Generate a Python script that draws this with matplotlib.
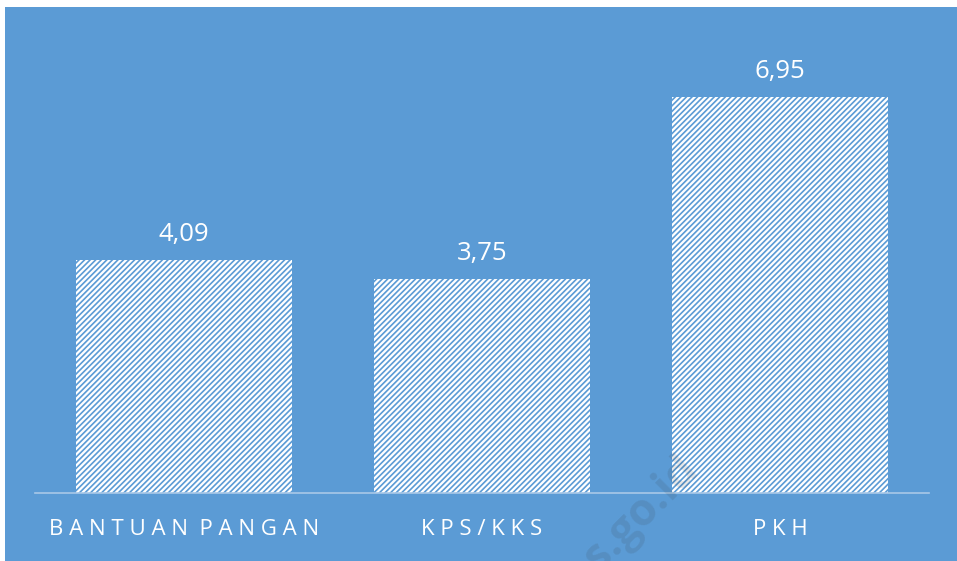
import matplotlib.pyplot as plt
from matplotlib.patches import Rectangle

# data
categories = ['BANTUAN PANGAN', 'KPS/KKS', 'PKH']
values = [4.09, 3.75, 6.95]
value_labels = ['4,09', '3,75', '6,95']

bg = '#5B9BD5'
W, H = 957, 561

plt.rcParams['font.family'] = ['Open Sans', 'DejaVu Sans']
plt.rcParams['hatch.linewidth'] = 1.2

fig = plt.figure(figsize=(W / 100, H / 100), dpi=100)
fig.patch.set_facecolor('white')
# blue panel with thin white frame at top/left
fig.patches.append(Rectangle((5 / W, 0), 1 - 5 / W, 1 - 7 / H,
                             transform=fig.transFigure, facecolor=bg,
                             edgecolor='none', zorder=-10))

# axes: x from 35 to 929 px, y=0 at 493 px
ax = fig.add_axes([35 / W, (H - 493) / H, (929 - 35) / W, (493 - 40) / H])
ax.set_facecolor('none')
scale = 57.0  # px per unit
ax.set_ylim(0, (493 - 40) / scale)
ax.set_xlim(-0.5, 2.5)

x = range(len(categories))
ax.bar(x, values, width=0.728, color='white', edgecolor=bg,
       hatch='//////', linewidth=0, zorder=2)

for xi, v, lab in zip(x, values, value_labels):
    ax.annotate(lab, (xi, v), xytext=(0, 13), textcoords='offset pixels',
                ha='center', va='bottom', color='white', fontsize=18.5)


def spaced(s):
    return '  '.join(' '.join(w) for w in s.split(' '))


ax.set_xticks(list(x))
ax.set_xticklabels([spaced(c) for c in categories], color='white', fontsize=16)
ax.tick_params(axis='x', length=0, pad=19)
ax.set_yticks([])
for side in ['top', 'left', 'right']:
    ax.spines[side].set_visible(False)
ax.spines['bottom'].set_color('#A8C8E8')
ax.spines['bottom'].set_linewidth(1.2)

# faint watermark
fig.text(700 / W, 1 - 470 / H, 'bps.go.id', rotation=45, rotation_mode='anchor',
         ha='right', va='baseline', fontsize=32, fontweight='bold',
         color='#333333', alpha=0.12, zorder=5)

fig.savefig('out.png', dpi=100, facecolor='white')
